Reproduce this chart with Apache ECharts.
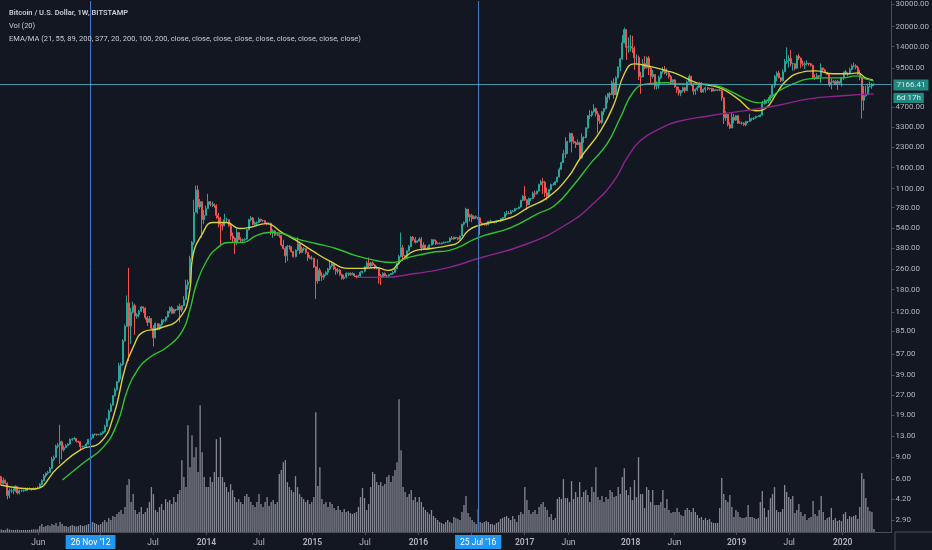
<!DOCTYPE html>
<html>
<head>
<meta charset="utf-8">
<script src="https://cdn.jsdelivr.net/npm/echarts@6/dist/echarts.min.js"></script>
<style>
html,body{margin:0;padding:0;background:#131722;}
#c{width:932px;height:550px;}
</style>
</head>
<body>
<div id="c"></div>
<script>
// ---- data: weekly candles [close, high, low]; open = previous close ----
const firstWeek = '2012-01-23';
const firstOpen = 6.3;
const ohlc2012 = [[5.6,6.4,5.4],[5.9,6.2,5.5],[5.6,6.0,5.5],[4.5,5.7,4.2],[4.9,5.1,4.3],[4.9,5.1,4.7],[4.9,5.1,4.6],[5.3,5.4,4.8],[4.7,5.3,4.6],[4.9,5.0,4.6],
[4.9,5.0,4.8],[4.9,5.0,4.8],[5.1,5.2,4.9],[5.1,5.2,4.9],[5.1,5.2,5.0],[5.0,5.1,4.9],[5.1,5.2,5.0],[5.1,5.2,5.0],[5.2,5.3,5.1],[5.5,5.6,5.2],
[5.9,6.0,5.4],[6.4,6.6,5.8],[6.7,6.8,6.2],[6.8,7.0,6.5],[7.3,7.5,6.8],[8.6,9.0,7.3],[8.9,9.2,8.3],[10.9,11.2,8.9],[11.1,11.5,10.5],[11.8,16.0,7.9],
[10.2,12.0,8.6],[10.6,11.0,9.9],[11.0,11.3,10.5],[11.3,11.5,10.9],[12.3,12.5,11.2],[12.4,12.6,12.0],[12.5,12.9,12.2],[11.9,12.5,11.6],[11.8,12.0,11.5],[10.8,11.9,10.1],
[10.8,11.0,10.6],[10.9,11.0,10.6],[11.3,11.6,10.8],[12.3,12.4,11.2],[12.6,12.8,12.0],[13.4,13.6,12.5],[13.5,13.7,13.2],[13.4,13.6,13.1],[13.4,13.6,13.2],[13.7,13.9,13.2]];
const ohlc2013 = [[14.1,14.3,13.4],[15.5,16.0,13.9],[17.5,18.0,15.4],[20.4,21.0,17.2],[22.7,23.5,20.0],[26.9,27.2,22.5],[29.9,31.0,26.5],[34.5,35.0,29.5],[46.0,48.4,34.0],[47.0,48.5,36.0],
[71.5,74,46],[93,96,71],[142,162,93],[94,266,50],[120,130,68],[135,145,117],[112,140,80],[115,118,107],[122,125,110],[132,134,121],
[129,133,118],[109,131,105],[100,112,94],[107,112,99],[90,108,88],[76,95,65],[98,100,75],[90,98,87],[96,98,87],[104,106,93],
[104,106,100],[110,111,101],[122,123,109],[130,133,118],[118,134,116],[126,128,117],[125,127,122],[133,135,124],[125,140,100],[135,136,120],
[150,160,134],[195,215,150],[205,215,180],[315,330,204],[420,430,310],[720,900,400],[1070,1160,720],[790,1163,700],[870,910,760],[630,870,455],
[680,750,580],[770,810,680]];
const ohlc2014 = [[870,1000,770],[830,880,800],[830,870,790],[810,840,780],[680,830,640],[650,710,550],[580,660,400],[565,600,520],[630,700,560],[630,650,600],
[565,630,555],[470,590,440],[450,500,420],[420,460,340],[500,540,400],[440,505,435],[435,460,420],[440,450,420],[445,450,430],[525,530,440],
[630,640,520],[650,670,610],[580,660,570],[595,610,560],[600,610,560],[635,655,590],[620,640,605],[620,630,600],[595,625,585],[590,600,570],
[590,600,575],[500,595,480],[515,530,455],[480,520,470],[480,490,470],[475,485,455],[400,480,390],[375,440,370],[330,390,290],[390,400,300],
[390,400,370],[355,390,350],[325,360,320],[365,370,320],[410,460,360],[350,410,340],[375,390,345],[375,385,360],[350,375,340],[320,350,300],
[315,335,310],[315,330,305]];
const ohlc2015 = [[270,318,265],[210,275,152],[255,310,200],[230,265,210],[225,245,210],[235,240,215],[245,250,230],[260,265,235],[275,300,255],[285,298,270],
[260,290,255],[250,270,235],[255,265,240],[235,260,230],[220,240,215],[225,235,215],[240,245,220],[240,245,230],[235,245,230],[240,245,233],
[230,240,225],[225,232,220],[230,235,222],[245,250,225],[250,252,240],[270,275,245],[290,300,262],[275,320,270],[290,295,270],[280,298,275],
[265,285,260],[265,275,258],[230,270,200],[225,238,195],[240,245,225],[230,245,228],[230,235,225],[235,238,225],[240,242,235],[245,250,235],
[262,265,245],[285,290,260],[325,335,280],[380,500,320],[330,400,300],[325,335,310],[360,365,315],[390,400,355],[460,470,385],[440,470,430],
[420,460,410],[430,435,415]];
const ohlc2016 = [[445,460,425],[380,460,360],[400,420,365],[370,400,365],[375,390,365],[400,405,370],[440,445,395],[430,440,405],[410,440,400],[410,420,405],
[410,420,405],[415,420,405],[420,425,410],[420,425,415],[425,430,420],[450,460,425],[445,470,440],[460,465,440],[455,460,445],[445,460,435],
[470,475,440],[580,585,470],[600,610,565],[760,780,600],[660,760,550],[680,700,610],[640,700,600],[665,680,645],[655,680,640],[650,660,630],
[590,660,480],[585,600,570],[580,585,565],[575,590,565],[610,615,570],[610,630,600],[608,615,600],[600,610,590],[615,620,595],[615,620,605],
[640,645,610],[655,660,630],[700,720,650],[705,740,680],[700,735,695],[730,750,695],[735,745,720],[765,775,730],[770,775,755],[790,795,765],
[890,900,785],[960,980,880]];
const ohlc2017 = [[900,1150,880],[820,910,750],[920,935,820],[920,930,880],[1010,1040,915],[1000,1060,940],[1050,1060,990],[1180,1200,1040],[1240,1280,1170],[1230,1330,1000],
[1020,1260,950],[960,1120,890],[1080,1090,940],[1180,1200,1060],[1180,1220,1160],[1240,1260,1170],[1350,1360,1230],[1550,1600,1350],[1750,1780,1550],[2050,2200,1740],
[2050,2760,1900],[2550,2580,2050],[2950,3000,2500],[2550,2980,2100],[2500,2800,2450],[2420,2570,2280],[2500,2650,2400],[1900,2550,1850],[2750,2950,1880],[2750,2800,2500],
[3250,3300,2700],[4050,4100,3200],[4100,4480,3800],[4350,4450,3950],[4600,4980,4300],[4200,4700,4000],[3700,4400,2980],[3600,4100,3500],[4350,4400,3500],[4600,4650,4100],
[5650,5850,4550],[6000,6100,5100],[5900,6200,5400],[7300,7600,5900],[5900,7900,5500],[8000,8200,5900],[9700,9800,8000],[11250,11400,9000],[15000,17200,11000],[19000,19666,14800],
[13800,19000,11000],[13900,16500,12500]];
const ohlc2018 = [[14000,17200,12800],[13600,17000,12500],[11500,14000,9200],[11500,12200,10100],[8200,11900,7700],[8100,8900,6000],[10300,11200,8100],[9600,11800,9300],[11400,11700,9400],[9500,11800,8400],
[8200,9900,7300],[8500,9200,7900],[6900,8500,6500],[7000,7500,6500],[8000,8300,6600],[8900,9000,7800],[9300,9700,8600],[8700,9900,8500],[8700,9500,8300],[8200,8900,7900],
[7400,8400,7100],[7700,7800,7150],[6800,7800,6700],[6450,6800,6100],[6100,6800,5800],[6350,6400,5750],[6700,6800,6200],[6350,6800,6100],[7400,7600,6300],[8200,8500,7400],
[7050,8300,6900],[6300,7200,5900],[6500,6600,5900],[6700,6900,6300],[7250,7400,6700],[6200,7400,6100],[6500,6600,6150],[6700,6800,6150],[6600,6800,6400],[6600,6700,6400],
[6300,6700,6200],[6450,6650,6300],[6400,6500,6350],[6400,6500,6300],[6350,6550,6300],[5600,6450,5300],[3900,5600,3500],[4150,4400,3700],[3450,4150,3350],[3250,3600,3200],
[3950,4250,3250],[3750,4200,3550],[4050,4100,3700]];
const ohlc2019 = [[3550,4100,3500],[3550,3700,3500],[3550,3650,3450],[3450,3600,3380],[3650,3700,3350],[3650,3700,3550],[3850,4200,3650],[3850,3900,3700],[3900,3950,3750],[4000,4050,3850],
[4000,4100,3950],[4100,4150,3950],[5050,5300,4100],[5050,5450,4950],[5300,5400,5050],[5300,5650,5100],[5800,5900,5300],[7000,7100,5700],[8200,8400,6700],[8700,8950,7500],
[8000,9100,7900],[7600,8100,7400],[8900,9300,7500],[10700,11200,8900],[10800,13800,10300],[11300,12000,9600],[10300,13200,9800],[10300,10500,9100],[9500,10300,9150],[11800,12000,9400],
[11400,12300,11000],[10300,11500,9500],[10150,10900,9800],[10300,10700,9350],[10400,10900,10000],[10300,10450,9950],[10000,10300,9800],[8050,10100,7800],[7850,8500,7700],[8300,8700,7800],
[8200,8400,7900],[9550,10350,7300],[9200,9600,8900],[8800,9400,8700],[8500,8900,8400],[7050,8600,6800],[7400,7900,6500],[7500,7700,7250],[7100,7650,7000],[7500,7700,6450],
[7250,7500,7100],[8050,8100,6850]];
const ohlc2020 = [[8900,8950,7700],[8700,9200,8500],[8600,8800,8250],[9300,9600,8550],[9900,10150,9150],[9900,10500,9700],[9650,10200,9300],[8550,9950,8400],[8000,9200,7650],[5350,8150,3850],
[5800,6900,4450],[5900,6950,5700],[6800,7200,5900],[6900,7450,6750],[7120,7300,6550],[7166.41,7200,6900]];

// weekly volume (thousand BTC)
const vol2012 = [12,10,10,18,12,10,10,10,12,10,10,10,10,10,10,12,12,12,14,30,40,25,30,35,30,40,35,45,30,50,40,30,30,25,30,35,30,28,30,35,30,32,35,40,45,50,45,40,35,40];
const vol2013 = [50,60,50,70,60,80,75,90,100,110,90,125,235,265,150,190,110,90,100,125,90,100,120,150,225,190,110,100,125,140,110,165,150,160,140,175,150,190,210,360,275,225,535,325,485,375,425,300,635,400,275,225];
const vol2014 = [225,275,250,300,465,275,475,275,250,225,200,240,210,175,150,165,150,140,180,190,175,150,135,125,150,190,140,125,150,175,130,150,160,140,150,290,310,350,360,250,225,210,200,280,225,190,175,165,150,160,140,150];
const vol2015 = [175,600,230,325,165,140,150,125,150,140,120,110,130,110,100,115,100,105,95,90,95,100,125,175,220,170,110,140,225,300,290,250,235,250,230,240,275,285,250,280,310,350,665,410,225,200,175,190,210,160,175,150];
const vol2016 = [175,150,125,110,100,90,110,80,70,60,50,45,40,50,60,50,45,75,70,65,60,100,135,180,95,75,60,50,40,115,50,45,50,55,50,40,40,35,45,50,65,70,75,80,70,60,80,65,50,85,100,90];
const vol2017 = [225,160,110,90,100,110,90,125,140,150,125,110,75,90,60,70,165,175,165,265,170,170,150,255,165,200,175,250,175,200,210,185,150,225,200,325,175,160,180,150,175,165,210,200,175,180,225,190,275,320,210,185];
const vol2018 = [225,160,260,175,375,190,190,120,225,210,150,210,135,135,135,150,210,120,165,110,95,100,100,120,100,85,80,110,120,110,100,120,100,85,70,75,60,70,60,65,50,45,45,45,120,270,190,160,150,185,125,75,110];
const vol2019 = [100,75,70,70,75,135,75,75,70,65,70,150,205,120,75,110,170,190,225,110,100,100,115,235,200,175,165,180,95,110,140,100,80,90,60,70,75,155,90,80,110,180,100,60,70,75,120,60,70,55,60,55];
const vol2020 = [90,100,65,80,75,80,85,65,125,295,265,170,125,105,100,15];

// moving averages [date, value]
const ema21 = [['2012-01-21',5.43],['2012-05-14',5.06],['2012-08-04',7.36],['2012-10-22',10.2],['2012-12-30',11.7],['2013-02-12',18.3],['2013-03-26',44.8],['2013-04-22',64],['2013-05-26',84],['2013-07-23',90],['2013-09-30',109],['2013-11-03',177],['2013-11-13',320],['2013-12-17',491],['2014-01-21',598],['2014-03-10',598],['2014-04-23',537],['2014-05-28',547],['2014-07-25',587],['2014-09-18',500],['2014-11-05',434],['2014-12-30',362],['2015-02-26',303],['2015-05-06',263],['2015-06-19',263],['2015-08-07',267],['2015-09-20',254],['2015-11-03',303],['2015-12-21',362],['2016-02-14',376],['2016-04-13',396],['2016-05-17',418],['2016-06-21',519],['2016-07-25',566],['2016-11-15',655],['2017-01-13',782],['2017-03-21',935],['2017-05-30',1337],['2017-07-13',1910],['2017-09-20',3097],['2017-11-06',5018],['2017-12-11',8590],['2018-01-14',10260],['2018-02-28',9900],['2018-05-07',9060],['2018-06-10',8590],['2018-08-18',7311],['2018-11-05',6683],['2019-01-02',5583],['2019-03-11',4426],['2019-04-15',4677],['2019-05-19',5998],['2019-06-22',7568],['2019-08-06',8730],['2019-10-03',9060],['2019-11-30',8590],['2020-01-24',8590],['2020-02-24',8730],['2020-03-22',7980],['2020-04-16',7709]];
const ema55 = [['2012-08-21',5.94],['2012-11-01',8.05],['2013-01-09',10.7],['2013-02-26',16.4],['2013-04-02',29.6],['2013-05-06',42.4],['2013-06-19',53.6],['2013-08-16',64],['2013-10-10',86.7],['2013-11-03',124],['2013-11-27',201],['2014-01-01',303],['2014-02-04',376],['2014-03-20',418],['2014-05-04',418],['2014-06-21',474],['2014-08-04',500],['2014-09-18',491],['2014-11-05',449],['2015-01-12',411],['2015-03-22',376],['2015-05-30',331],['2015-08-07',303],['2015-09-30',292],['2015-11-27',320],['2016-02-14',350],['2016-04-13',362],['2016-05-17',383],['2016-07-25',457],['2016-11-15',547],['2017-02-16',703],['2017-04-15',811],['2017-06-23',1200],['2017-08-16',1718],['2017-10-13',2455],['2017-11-27',3909],['2018-01-14',6340],['2018-02-28',7178],['2018-05-07',7311],['2018-06-10',7178],['2018-08-18',7178],['2018-10-26',6920],['2018-12-09',6340],['2019-02-16',5296],['2019-03-22',5105],['2019-04-25',5485],['2019-05-29',6340],['2019-07-16',7178],['2019-09-09',7852],['2019-11-06',7980],['2020-01-04',7980],['2020-02-18',8275],['2020-03-22',7852],['2020-04-19',7568]];
const ma200 = [['2015-06-09',224],['2015-08-27',224],['2015-12-21',240],['2016-04-13',267],['2016-07-25',314],['2017-01-13',411],['2017-05-30',587],['2017-08-30',855],['2017-11-06',1268],['2017-12-21',1910],['2018-02-04',2588],['2018-04-13',3213],['2018-06-10',3639],['2018-10-02',4048],['2019-01-26',4426],['2019-05-19',4842],['2019-09-09',5485],['2020-01-04',5794],['2020-04-19',5998]];

// axis ticks and annotations
const priceTicks = [30000,20000,14000,9500,4700,3300,2300,1600,1100,780,540,380,260,180,120,85,57,39,27,19,13,9,6,4.2,2.9];
const timeTicks = ['2012-06-01','2013-01-01','2013-07-01','2014-01-01','2014-07-01','2015-01-01','2015-07-01','2016-01-01','2016-07-01','2017-01-01','2017-06-01','2018-01-01','2018-06-01','2019-01-01','2019-07-01','2020-01-01'];
const monthNames = ['Jan','Feb','Mar','Apr','May','Jun','Jul','Aug','Sep','Oct','Nov','Dec'];
const markerDates = ['2012-11-26','2016-07-25'];
const markerLabels = ["26 Nov '12","25 Jul '16"];
const lastPrice = 7166.41;
const countdown = '6d 17h';
const titleLines = ['Bitcoin / U.S. Dollar, 1W, BITSTAMP','Vol (20)','EMA/MA (21, 55, 89, 200, 377, 20, 200, 100, 200, close, close, close, close, close, close, close, close, close)'];

// ---- build ----
const rows = [].concat(ohlc2012,ohlc2013,ohlc2014,ohlc2015,ohlc2016,ohlc2017,ohlc2018,ohlc2019,ohlc2020);
const vols = [].concat(vol2012,vol2013,vol2014,vol2015,vol2016,vol2017,vol2018,vol2019,vol2020);
const toT = s => { const p = s.split('-').map(Number); return new Date(p[0], p[1]-1, p[2]).getTime(); };
const t0 = toT(firstWeek);
const weekT = i => { const d = new Date(t0); d.setDate(d.getDate() + 7*i); return d.getTime(); };
const candles = rows.map((r,i)=>[weekT(i), i===0?firstOpen:rows[i-1][0], r[0], r[2], r[1]]);
const volData = vols.map((v,i)=>[weekT(i), v]);
const lineData = arr => arr.map(p=>[toT(p[0]), p[1]]);
const xMin = toT('2012-01-21'), xMax = toT('2020-06-17');

const FONT = 'Roboto, "Noto Sans", sans-serif';
const AX = '#4a4e59';
const TXT = '#b2b5be';

const chart = echarts.init(document.getElementById('c'), null, {renderer:'canvas'});
chart.setOption({
  backgroundColor:'#131722',
  animation:false,
  textStyle:{fontFamily:FONT},
  title: titleLines.map((t,i)=>({
    text:t, left:4, top:4+i*13,
    textStyle:{fontSize:7.5, fontWeight: i===0?600:400, color:'#c9ccd4', fontFamily:FONT}
  })),
  grid:{left:0, right:37, top:0, bottom:18, containLabel:false},
  xAxis:[{
    type:'time', min:xMin, max:xMax,
    axisLine:{show:true, lineStyle:{color:AX}},
    axisTick:{show:false}, axisLabel:{show:false}, splitLine:{show:false}
  },{
    type:'value', min:xMin, max:xMax, position:'bottom',
    axisLine:{show:false},
    splitLine:{show:false},
    axisTick:{show:true, customValues: timeTicks.map(toT), length:3, lineStyle:{color:AX}},
    axisLabel:{
      customValues: timeTicks.map(toT),
      margin:6,
      formatter: v => { const d = new Date(v); return d.getMonth()===0 ? '{y|'+d.getFullYear()+'}' : '{m|'+monthNames[d.getMonth()]+'}'; },
      rich:{ y:{fontSize:8.5, fontWeight:600, color:TXT, fontFamily:FONT}, m:{fontSize:8.5, color:TXT, fontFamily:FONT} }
    }
  }],
  yAxis:[{
    type:'log', logBase:10, position:'right', min:2.34, max:31623,
    axisLine:{show:true, lineStyle:{color:AX}},
    axisTick:{show:true, customValues: priceTicks, length:3, lineStyle:{color:AX}},
    splitLine:{show:false},
    axisLabel:{customValues: priceTicks, formatter: v => Number(v).toFixed(2), color:TXT, fontSize:8, margin:4, fontFamily:FONT}
  },{
    type:'value', min:0, max:2660, show:false, splitLine:{show:false}
  }],
  graphic:[
    {type:'line', shape:{x1:895, y1:532, x2:895, y2:550}, style:{stroke:AX, lineWidth:1}, silent:true},
    {type:'line', shape:{x1:895, y1:532, x2:932, y2:532}, style:{stroke:AX, lineWidth:1}, silent:true}
  ],
  series:[
    {type:'bar', name:'Vol', yAxisIndex:1, data:volData, barWidth:1.3, itemStyle:{color:'#868993'}, z:1},
    {type:'candlestick', name:'BTCUSD', data:candles, encode:{x:0, y:[1,2,3,4]}, barWidth:1.5, z:3,
      itemStyle:{color:'#26a69a', color0:'#ef5350', borderColor:'#26a69a', borderColor0:'#ef5350', borderWidth:1},
      markLine:{
        symbol:'none', silent:true, animation:false,
        data:[
          ...markerDates.map((d,i)=>({xAxis: toT(d), name: markerLabels[i],
            lineStyle:{color:'#3a7bd0', width:1, type:'solid'},
            label:{show:true, position:'start', formatter: markerLabels[i], color:'#fff', backgroundColor:'#2196f3', padding:[3,5,2,5], fontSize:8.5, fontFamily:FONT, distance:3}})),
          {yAxis: lastPrice, name:'last',
            lineStyle:{color:'#4fb6c8', width:1, type:'solid', opacity:0.8},
            label:{show:true, position:'end', distance:2, padding:[14,0,0,0],
              formatter: '{a|'+lastPrice.toFixed(2)+'}\n{b|'+countdown+'}',
              rich:{
                a:{color:'#fff', backgroundColor:'#26a69a', padding:[2,3,1,3], fontSize:8, fontFamily:FONT, lineHeight:14},
                b:{color:'#fff', backgroundColor:'#26a69a', padding:[1,3,1,3], fontSize:8, fontFamily:FONT, lineHeight:12}
              }}}
        ]
      }
    },
    {type:'line', name:'EMA 21', data:lineData(ema21), smooth:0.5, showSymbol:false, lineStyle:{color:'#d9d23a', width:1.4}, z:4},
    {type:'line', name:'EMA 55', data:lineData(ema55), smooth:0.5, showSymbol:false, lineStyle:{color:'#2fc42f', width:1.4}, z:4},
    {type:'line', name:'MA 200', data:lineData(ma200), smooth:0.5, showSymbol:false, lineStyle:{color:'#8e248c', width:1.4}, z:4}
  ]
});
</script>
</body>
</html>
